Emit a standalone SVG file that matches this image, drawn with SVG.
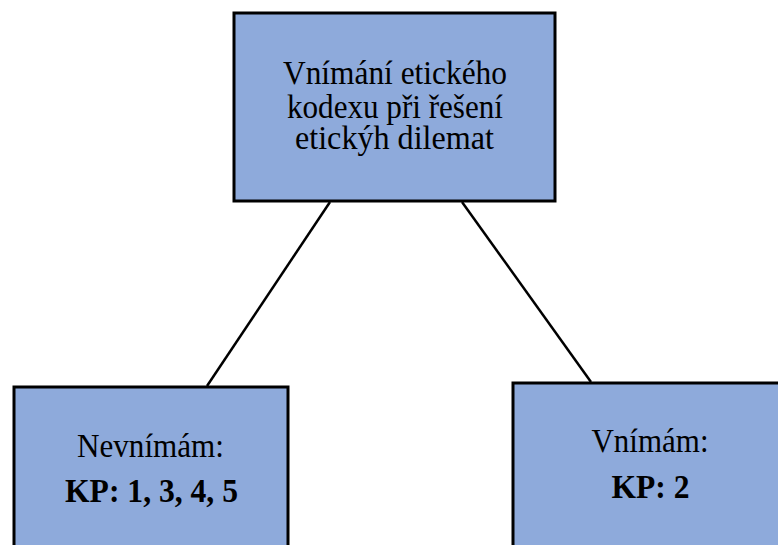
<svg xmlns="http://www.w3.org/2000/svg" width="778" height="545" viewBox="0 0 778 545">
<style>
.box{fill:#8eaadb;stroke:#000;stroke-width:3}
.t{font-family:"Liberation Serif","Times New Roman",serif;font-size:33px;fill:#000;text-anchor:middle}
.b{font-weight:bold}
.c{stroke:#000;stroke-width:2.5;fill:none}
</style>
<rect width="778" height="545" fill="#fff"/>
<g id="connectors">
<line class="c" x1="330" y1="202" x2="207" y2="386"/>
<line class="c" x1="462" y1="202" x2="591" y2="382"/>
</g>
<g id="root">
<rect class="box" x="234" y="13" width="321" height="188"/>
<text class="t" x="395" y="84" textLength="224" lengthAdjust="spacingAndGlyphs">Vnímání etického</text>
<text class="t" x="395" y="118" textLength="216" lengthAdjust="spacingAndGlyphs">kodexu při řešení</text>
<text class="t" x="394.5" y="149" textLength="199" lengthAdjust="spacingAndGlyphs">etickýh dilemat</text>
</g>
<g id="left">
<rect class="box" x="14" y="387" width="274" height="170"/>
<text class="t" x="150.5" y="457" textLength="147" lengthAdjust="spacingAndGlyphs">Nevnímám:</text>
<text class="t b" x="151.5" y="502" textLength="173" lengthAdjust="spacingAndGlyphs">KP: 1, 3, 4, 5</text>
</g>
<g id="right">
<rect class="box" x="513" y="383" width="275" height="175"/>
<text class="t" x="650" y="452" textLength="117" lengthAdjust="spacingAndGlyphs">Vnímám:</text>
<text class="t b" x="650.5" y="498" textLength="78" lengthAdjust="spacingAndGlyphs">KP: 2</text>
</g>
</svg>
